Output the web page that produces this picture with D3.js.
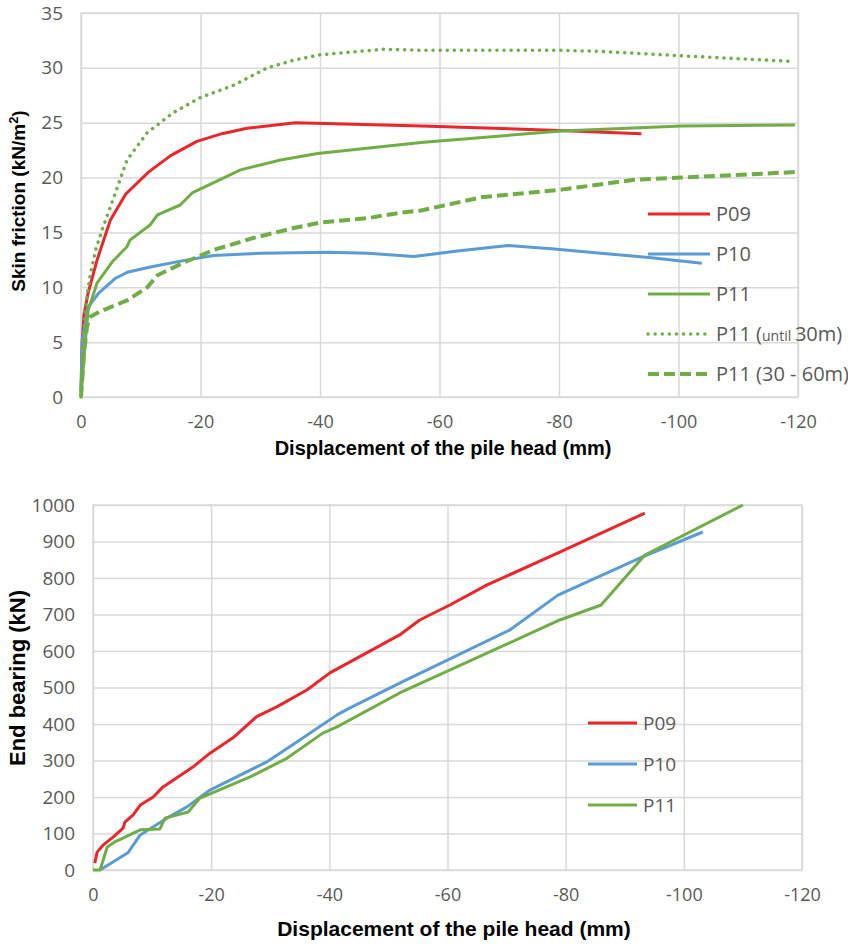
<!DOCTYPE html>
<html>
<head>
<meta charset="utf-8">
<script src="https://cdn.jsdelivr.net/npm/d3@7"></script>
<style>
  body { margin: 0; background: #fff; }
  svg { display: block; }
</style>
</head>
<body>
<div id="chart"></div>
<script>
// displacement (mm) vs skin friction (kN/m2)
var p09Friction = [[0,0.5],[-0.2,5],[-0.5,7.5],[-1.2,9.5],[-2.7,12.5],[-4.9,16.1],[-7.5,18.5],[-11.3,20.5],[-15,22],[-19.4,23.3],[-23.6,24.0],[-27.8,24.5],[-35.9,25.0],[-57,24.7],[-80,24.3],[-93.8,24.0]];
var p10Friction = [[0,0.5],[-0.2,5.2],[-1.2,8.2],[-3,9.5],[-5.7,10.8],[-7.9,11.4],[-12,11.9],[-17.8,12.5],[-22.2,12.9],[-30,13.1],[-41.5,13.2],[-48,13.1],[-55.7,12.8],[-63,13.3],[-71.5,13.8],[-79.2,13.5],[-87,13.1],[-95.5,12.7],[-103.9,12.2]];
var p11Friction = [[0,0],[-0.7,4.9],[-1.2,7.9],[-2.7,10.4],[-5.2,12.3],[-7.7,13.7],[-8.2,14.3],[-11.6,15.7],[-12.8,16.6],[-16.6,17.5],[-18.6,18.6],[-26.7,20.7],[-33.4,21.6],[-39.6,22.2],[-56.9,23.2],[-80.4,24.25],[-100.5,24.7],[-119.5,24.8]];
var p11Upper = [[0,0],[-0.3,5],[-0.8,8.5],[-1.5,11],[-2.5,13.5],[-3.7,15.5],[-4.9,17.3],[-7.7,21.6],[-11.1,24.1],[-15.4,25.9],[-20,27.3],[-25.5,28.4],[-31.2,30.0],[-35.6,30.7],[-40.1,31.2],[-50.7,31.7],[-56.9,31.6],[-80.4,31.6],[-87,31.5],[-100.5,31.1],[-118.6,30.6]];
var p11Lower = [[0,0],[-0.5,4],[-1,6.4],[-1.5,7.3],[-3.2,7.8],[-7.7,8.8],[-11.1,10.0],[-12.8,11.1],[-17.4,12.3],[-22.2,13.4],[-28.9,14.5],[-35.6,15.4],[-40.1,15.9],[-48,16.3],[-53.5,16.8],[-56.9,17.0],[-67,18.2],[-80.4,18.9],[-92.6,19.8],[-100.5,20.0],[-119.5,20.5]];

// displacement (mm) vs end bearing (kN)
var p09Bearing = [[-0.3,19],[-0.7,49],[-1.7,68],[-3.4,90],[-5.1,115],[-5.4,131],[-6.8,151],[-8,178],[-10.2,200],[-11.8,227],[-16.9,282],[-19.8,320],[-23.7,362],[-27.7,420],[-31.1,447],[-36.2,493],[-40.1,540],[-51.9,644],[-55.3,685],[-60.4,726],[-66.7,781],[-79,871],[-93.4,978]];
var p10Bearing = [[-1.2,0],[-5.9,47],[-8,96],[-12.5,142],[-15.9,173],[-19.8,219],[-29.4,296],[-35,356],[-41.3,425],[-43.5,444],[-51.9,512],[-70.6,658],[-78.7,753],[-93,858],[-103.2,926]];
var p11Bearing = [[0,0],[-1.2,0],[-2.4,63],[-3.7,77],[-8,110],[-11.3,112],[-12.2,142],[-16.1,159],[-18.1,197],[-26.6,255],[-32.8,306],[-38.9,375],[-41.3,392],[-51.9,485],[-79,685],[-86,726],[-93.4,863],[-110,1000]];

var xTicks = [0, -20, -40, -60, -80, -100, -120];
var frictionTicks = [0, 5, 10, 15, 20, 25, 30, 35];
var bearingTicks = [0, 100, 200, 300, 400, 500, 600, 700, 800, 900, 1000];

var red = "#e8262b", blue = "#5b9bd5", green = "#70ad47";

var svg = d3.select("#chart").append("svg")
    .attr("width", 848)
    .attr("height", 944);

// plain hyphen, no thousands comma (like the excel original)
function plain(d) { return String(d); }

function dashFor(s) {
    return s.dash == "dot" ? "0.1,7" : (s.dash == "dash" ? "11,5" : null);
}

function drawChart(opt) {
    var g = svg.append("g");
    var x = d3.scaleLinear().domain([0, -120]).range([opt.left, opt.right]);
    var y = d3.scaleLinear().domain([0, opt.ymax]).range([opt.bottom, opt.top]);

    // grid
    g.append("g")
        .attr("transform", "translate(0," + opt.bottom + ")")
        .call(d3.axisBottom(x).tickValues(xTicks).tickSize(-(opt.bottom - opt.top)).tickFormat(plain).tickPadding(18))
        .call(function(a) {
            a.select(".domain").remove();
            a.selectAll("line").attr("stroke", "#d9d9d9").attr("stroke-width", 1.5);
            a.selectAll("text").attr("fill", "#595959").style("font", "18px 'Open Sans'");
        });
    g.append("g")
        .attr("transform", "translate(" + opt.left + ",0)")
        .call(d3.axisLeft(y).tickValues(opt.yTicks).tickSize(-(opt.right - opt.left)).tickFormat(plain).tickPadding(18))
        .call(function(a) {
            a.select(".domain").remove();
            a.selectAll("line").attr("stroke", "#d9d9d9").attr("stroke-width", 1.5);
            a.selectAll("text").attr("fill", "#595959").style("font", "19px 'Open Sans'");
        });
    g.append("rect")
        .attr("x", opt.left).attr("y", opt.top)
        .attr("width", opt.right - opt.left).attr("height", opt.bottom - opt.top)
        .attr("fill", "none").attr("stroke", "#d9d9d9").attr("stroke-width", 1.5);

    var line = d3.line().x(function(d) { return x(d[0]); }).y(function(d) { return y(d[1]); });

    opt.series.forEach(function(s) {
        g.append("path")
            .datum(s.data)
            .attr("d", line)
            .attr("fill", "none")
            .attr("stroke", s.color)
            .attr("stroke-width", s.width || 3)
            .attr("stroke-linejoin", "round")
            .attr("stroke-linecap", s.dash == "dot" ? "round" : "butt")
            .attr("stroke-dasharray", dashFor(s));
    });

    // legend
    opt.series.forEach(function(s, i) {
        var ly = opt.legend.y + i * opt.legend.step;
        g.append("line")
            .attr("x1", opt.legend.x).attr("x2", opt.legend.x + opt.legend.len)
            .attr("y1", ly).attr("y2", ly)
            .attr("stroke", s.color)
            .attr("stroke-width", s.width || 3)
            .attr("stroke-linecap", s.dash == "dot" ? "round" : "butt")
            .attr("stroke-dasharray", dashFor(s));
        var t = g.append("text")
            .attr("x", opt.legend.x + opt.legend.len + 6)
            .attr("y", ly)
            .attr("dy", "0.35em")
            .attr("fill", "#595959")
            .style("font", opt.legend.font + " 'Open Sans'");
        s.label.forEach(function(part) {
            t.append("tspan").style("font-size", part.small ? "14px" : null).text(part.text);
        });
    });

    // axis titles
    g.append("text")
        .attr("x", opt.xTitleX).attr("y", opt.xTitleY)
        .attr("text-anchor", "middle")
        .style("font", "bold " + opt.xTitleSize + " 'Liberation Sans'")
        .text("Displacement of the pile head (mm)");
    var yt = g.append("text")
        .attr("transform", "translate(25," + opt.yTitleY + ") rotate(-90)")
        .attr("text-anchor", "middle")
        .style("font", "bold " + opt.yTitleSize + " 'Liberation Sans'");
    opt.yTitle.forEach(function(part) {
        yt.append("tspan")
            .attr("baseline-shift", part.sup ? "super" : null)
            .style("font-size", part.sup ? "13px" : null)
            .text(part.text);
    });
}

drawChart({
    left: 81, right: 798, top: 13, bottom: 397, ymax: 35,
    yTicks: frictionTicks,
    xTitleX: 443, xTitleY: 455, xTitleSize: "20px",
    yTitle: [{text: "Skin friction (kN/m"}, {text: "2", sup: true}, {text: ")"}],
    yTitleY: 201, yTitleSize: "19px",
    legend: {x: 648, len: 62, y: 214, step: 40, font: "20px"},
    series: [
        {data: p09Friction, color: red, label: [{text: "P09"}]},
        {data: p10Friction, color: blue, label: [{text: "P10"}]},
        {data: p11Friction, color: green, label: [{text: "P11"}]},
        {data: p11Upper, color: green, dash: "dot", width: 3.5, label: [{text: "P11 ("}, {text: "until ", small: true}, {text: "30m)"}]},
        {data: p11Lower, color: green, dash: "dash", width: 4, label: [{text: "P11 (30 - 60m)"}]}
    ]
});

drawChart({
    left: 93, right: 802, top: 505, bottom: 870, ymax: 1000,
    yTicks: bearingTicks,
    xTitleX: 454, xTitleY: 936, xTitleSize: "21px",
    yTitle: [{text: "End bearing (kN)"}],
    yTitleY: 678, yTitleSize: "22px",
    legend: {x: 588, len: 49, y: 723, step: 41, font: "19px"},
    series: [
        {data: p09Bearing, color: red, label: [{text: "P09"}]},
        {data: p10Bearing, color: blue, label: [{text: "P10"}]},
        {data: p11Bearing, color: green, label: [{text: "P11"}]}
    ]
});
</script>
</body>
</html>
